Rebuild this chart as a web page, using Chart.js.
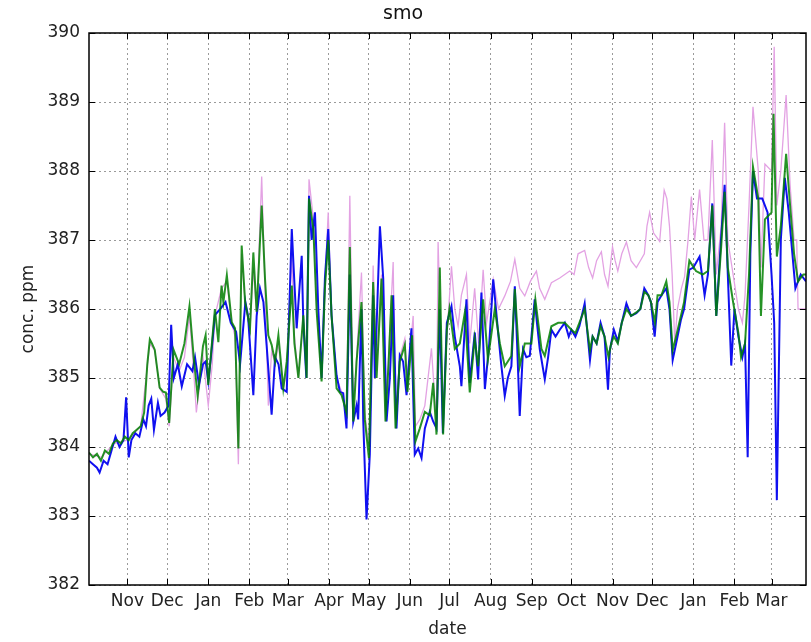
<!DOCTYPE html>
<html>
<head>
<meta charset="utf-8">
<script src="https://cdn.jsdelivr.net/npm/chart.js@4.4.1/dist/chart.umd.min.js"></script>
<style>
  html, body { margin: 0; padding: 0; background: #fff; }
  canvas { display: block; }
</style>
</head>
<body>
<canvas id="chart" width="811" height="642"></canvas>
<script>
// x values are days counted from 1 Nov 2007
const monthDays = [0, 30, 61, 92, 121, 152, 182, 213, 243, 274, 305, 335, 366, 396, 427, 458, 486];
const monthLabels = ['Nov', 'Dec', 'Jan', 'Feb', 'Mar', 'Apr', 'May', 'Jun', 'Jul', 'Aug', 'Sep', 'Oct', 'Nov', 'Dec', 'Jan', 'Feb', 'Mar'];
const yTicks = [382, 383, 384, 385, 386, 387, 388, 389, 390];

// [day, ppm]
const blueSeries = [
  [-29,383.8],[-26,383.75],[-23,383.7],[-21,383.63],[-18,383.8],[-15,383.75],[-12,383.95],[-9,384.15],[-6,384.0],[-3,384.1],
  [-1,384.72],[1,383.85],[3,384.1],[6,384.2],[9,384.15],[12,384.4],[14,384.3],[16,384.6],[18,384.7],[20,384.25],
  [23,384.64],[25,384.45],[28,384.5],[31,384.6],[33,385.77],[35,385.0],[38,385.2],[41,384.88],[45,385.2],[49,385.1],
  [51,385.3],[54,384.9],[57,385.2],[59,385.24],[61,384.95],[63,385.3],[66,385.91],[70,386.0],[74,386.1],[78,385.8],
  [82,385.67],[85,385.2],[89,386.1],[91,385.9],[95,384.75],[97.5,385.9],[100,386.3],[102.6,386.1],[105,385.48],[108.8,384.47],
  [111.4,385.3],[114,385.2],[116.4,384.85],[120.2,384.8],[124,387.16],[125.2,386.68],[127.7,385.72],[131.5,386.77],[132.7,385.81],[135,385.0],
  [137,387.64],[139,387.0],[141.5,387.4],[144,386.0],[146.5,385.0],[149,386.44],[151.5,387.16],[154,385.91],[157.8,385.04],[160.3,384.8],
  [162.8,384.78],[165.3,384.27],[167.8,386.5],[170.4,384.37],[172.9,384.6],[174.1,384.4],[176.6,386.0],[177.9,384.4],[180.4,382.95],[182.9,383.9],
  [185.4,386.2],[186.7,385.0],[190.5,387.2],[193,386.44],[195.5,384.37],[198,385.0],[200.5,386.2],[203,384.27],[205.5,385.33],[208,385.24],
  [210.6,384.75],[214.3,385.72],[216.8,383.89],[219.4,383.98],[221.9,383.84],[224.4,384.27],[228.1,384.51],[230.7,384.37],[233.2,384.27],[235.7,386.0],
  [238,384.2],[241,385.8],[244.5,386.04],[247,385.6],[250.8,385.17],[252,384.88],[255.8,386.14],[258.3,384.93],[262.1,385.66],[264.6,384.98],
  [267.1,386.24],[269.7,384.84],[273,385.5],[276,386.43],[279.7,385.66],[282,385.2],[284.7,384.74],[287,385.0],[289.7,385.17],[292.3,386.33],
  [294,385.5],[296,384.45],[298.5,385.42],[301,385.3],[303.6,385.32],[307.3,386.14],[309,385.8],[311.1,385.42],[314.9,384.98],[317.4,385.3],
  [319.9,385.7],[323,385.6],[326.2,385.7],[330,385.8],[333,385.6],[335,385.7],[338,385.6],[341,385.75],[345,386.08],[349,385.26],
  [351,385.6],[354,385.5],[357,385.8],[360,385.6],[362.6,384.83],[364,385.4],[367,385.7],[370,385.53],[373,385.8],[376.5,386.08],
  [380,385.9],[384,385.94],[387,386.0],[390,386.3],[393,386.2],[395,386.1],[397.8,385.6],[400,386.1],[403,386.2],[406.6,386.3],
  [409,386.0],[411.4,385.26],[414,385.5],[417.6,385.84],[420,386.0],[424,386.57],[427,386.6],[431.7,386.76],[435.5,386.2],[438,386.5],
  [441.3,387.53],[444.3,385.9],[448,387.05],[450.6,387.8],[453,386.5],[455.6,385.18],[458,386.0],[461,385.6],[464,385.3],[466,385.5],
  [468,383.85],[470,386.8],[472,388.0],[475,387.6],[479,387.6],[483,387.4],[486,386.5],[488,385.8],[490,383.23],[493,387.0],
  [496,387.9],[499,387.4],[504,386.3],[508,386.5],[512,386.4]
];

const greenSeries = [
  [-29,383.92],[-26,383.85],[-23,383.9],[-20,383.8],[-17,383.95],[-14,383.9],[-11,384.05],[-8,384.1],[-5,384.05],[-2,384.15],
  [1,384.1],[4,384.2],[7,384.25],[10,384.3],[12.6,384.5],[15,385.2],[16.9,385.56],[18.5,385.5],[20.6,385.41],[22,385.2],
  [24.3,384.86],[27,384.8],[29,384.79],[31.5,384.35],[34.8,385.41],[37,385.3],[39,385.2],[43,385.5],[46.8,386.04],[50,385.3],
  [53,384.74],[57,385.46],[59,385.62],[61,384.9],[66,386.0],[68.6,385.52],[71,386.34],[72.4,386.1],[75,386.49],[78.7,385.81],
  [81.2,385.72],[83.7,383.98],[86.2,386.92],[88.8,386.1],[92.5,385.72],[95,386.82],[97.5,385.96],[101.3,387.5],[103.8,386.44],[106.3,385.62],
  [108.8,385.48],[111.4,385.24],[113.9,385.62],[117.6,384.85],[120.2,385.24],[124,386.34],[126,385.5],[129,385.0],[132.7,385.91],[135.2,385.0],
  [137,387.6],[140.3,387.16],[142.8,385.96],[146.5,384.95],[149,386.3],[151.5,387.0],[154,385.91],[157.8,384.85],[161.6,384.75],[165.3,384.5],
  [167.8,386.9],[170.4,384.37],[172.9,385.24],[176.6,386.1],[179.1,384.4],[182.2,383.84],[185.4,386.39],[188,385.0],[191.7,386.44],[194.7,384.37],
  [197,385.2],[199.3,386.2],[202.3,384.27],[205.5,385.24],[209.3,385.48],[211.3,384.8],[214.8,385.62],[217.3,384.08],[220.6,384.27],[224.4,384.51],
  [228.1,384.46],[230.7,384.93],[233.2,384.18],[235.7,386.6],[238.2,384.18],[241,385.7],[243,386.0],[247,385.42],[250.8,385.5],[254.6,385.95],
  [258.3,384.79],[262,385.57],[264.6,385.17],[268.4,386.14],[272,385.27],[277.2,386.0],[281,385.5],[284.7,385.17],[289.7,385.32],[292.3,386.29],
  [296,385.17],[299.8,385.5],[304.8,385.5],[307.8,386.14],[312.4,385.42],[314.9,385.32],[319.9,385.75],[325,385.8],[330,385.8],[335,385.7],
  [338,385.65],[341,385.8],[345,386.0],[349,385.4],[351,385.6],[354,385.5],[357,385.75],[360,385.6],[363,385.3],[365,385.5],
  [367,385.6],[370,385.5],[373,385.8],[376.5,386.0],[380,385.9],[384,385.95],[387,386.0],[390,386.25],[393,386.2],[395,386.1],
  [398,385.8],[400,386.2],[403,386.2],[406.6,386.4],[409,386.1],[411.4,385.4],[414,385.6],[417.6,385.9],[420,386.1],[424,386.7],
  [429,386.55],[434,386.5],[438,386.55],[441.3,387.5],[444.3,385.9],[448,386.9],[450.6,387.7],[453,386.6],[457,386.1],[461,385.65],
  [463,385.3],[466,385.5],[469,386.5],[472,388.06],[476,387.6],[478,385.9],[481,387.3],[486,387.4],[487.5,388.83],[490,386.76],
  [493,387.2],[497,388.25],[500,387.5],[503,386.8],[506,386.4],[510,386.5],[512,386.5]
];

const pinkSeries = [
  [-29,383.9],[-20,383.85],[-10,384.05],[0,384.1],[10,384.3],[16.9,385.5],[20.6,385.4],[24.3,384.85],[29,384.7],[31.5,384.3],
  [34.8,385.3],[39,385.1],[43,385.3],[46.8,385.9],[50,385.1],[52,384.5],[57,385.3],[61,384.6],[64,385.2],[66,385.9],
  [71,386.3],[75,386.4],[78.7,385.8],[81.2,385.6],[83.7,383.75],[86.2,386.8],[88.8,386.1],[92.5,385.7],[95,386.6],[97.5,385.9],
  [101.3,387.92],[103.8,386.3],[106.3,384.6],[108.8,385.4],[111.4,385.2],[113.9,385.5],[117.6,384.85],[120.2,385.1],[124,386.8],[126,385.6],
  [129,385.0],[132.7,385.9],[135.2,385.0],[137,387.88],[140.3,387.3],[142.8,386.0],[146.5,385.0],[149,386.4],[151.5,387.4],[154,385.9],
  [157.8,385.0],[161.6,384.8],[165.3,384.5],[167.8,387.64],[170.4,384.5],[172.9,385.3],[176.6,386.53],[179.1,384.5],[182.2,384.0],[185.4,386.63],
  [188,385.1],[191.7,386.5],[194.7,384.5],[197,385.3],[200.5,386.68],[202.3,384.4],[205.5,385.3],[209.3,385.57],[211.3,385.0],[215.6,385.9],
  [217.3,384.3],[220.6,384.4],[224.4,384.6],[229.4,385.43],[233.2,384.3],[234.4,386.97],[238.2,384.4],[241,385.6],[244.5,386.62],[247,386.0],
  [249.5,385.75],[252,386.2],[255.8,386.5],[258.3,385.5],[262,386.3],[265,385.5],[268.4,386.57],[271,385.8],[276,386.43],[280,386.0],
  [284.7,386.19],[289,386.4],[292.3,386.72],[296,386.3],[299.8,386.19],[304,386.4],[308.6,386.55],[311,386.3],[314.9,386.14],[319.9,386.38],
  [326.2,386.45],[333.7,386.55],[337,386.5],[340,386.8],[345,386.85],[348,386.6],[351,386.45],[354,386.7],[357.6,386.83],[360,386.5],
  [362.6,386.33],[366,386.9],[368,386.7],[370,386.55],[373,386.8],[376.5,386.97],[380,386.7],[384,386.6],[387,386.7],[390,386.8],
  [392,387.2],[394,387.4],[397,387.1],[401.6,386.98],[403,387.3],[405,387.72],[407,387.6],[409,387.2],[411,386.5],[413,385.5],
  [415,386.0],[418,386.3],[420.4,386.47],[423,387.0],[425.5,387.63],[428,387.0],[431.7,387.73],[435,387.0],[438,387.0],[441.3,388.45],
  [444.3,386.5],[448,387.2],[450.6,388.7],[453,387.0],[457,386.5],[461,386.0],[464,385.8],[466,386.2],[469,387.5],[472,388.93],
  [476,388.0],[478,386.6],[481,388.1],[486,388.0],[488,389.8],[490,387.5],[493,388.0],[497,389.1],[500,387.8],[503,387.0],
  [505,387.0],[506,386.0],[512,386.0]
];

const toPoints = (series) => series.map(([d, v]) => ({ x: d, y: v }));

// matplotlib-like frame with inward ticks on all four sides
const framePlugin = {
  id: 'frame',
  afterDatasetsDraw(chart) {
    const { ctx, chartArea: a, scales: { x, y } } = chart;
    ctx.save();
    ctx.strokeStyle = '#000';
    ctx.lineWidth = 1;
    ctx.beginPath();
    x.ticks.forEach((t) => {
      const px = Math.round(x.getPixelForValue(t.value)) + 0.5;
      ctx.moveTo(px, a.bottom); ctx.lineTo(px, a.bottom - 6);
      ctx.moveTo(px, a.top); ctx.lineTo(px, a.top + 6);
    });
    y.ticks.forEach((t) => {
      const py = Math.round(y.getPixelForValue(t.value)) + 0.5;
      ctx.moveTo(a.left, py); ctx.lineTo(a.left + 6, py);
      ctx.moveTo(a.right, py); ctx.lineTo(a.right - 6, py);
    });
    ctx.stroke();
    ctx.lineWidth = 1.5;
    ctx.strokeRect(a.left, a.top, a.right - a.left, a.bottom - a.top);
    ctx.restore();
  }
};

Chart.defaults.font.family = "'DejaVu Sans', sans-serif";
Chart.defaults.font.size = 17;
Chart.defaults.color = '#222';

new Chart(document.getElementById('chart'), {
  type: 'line',
  data: {
    datasets: [
      {
        label: 'pink',
        data: toPoints(pinkSeries),
        borderColor: '#e3a2e3',
        borderWidth: 1.3,
        pointRadius: 0,
        tension: 0,
        order: 3,
      },
      {
        label: 'blue',
        data: toPoints(blueSeries),
        borderColor: '#1010f0',
        borderWidth: 2,
        pointRadius: 0,
        tension: 0,
        order: 2,
      },
      {
        label: 'green',
        data: toPoints(greenSeries),
        borderColor: 'rgba(0,128,0,0.85)',
        borderWidth: 2,
        pointRadius: 0,
        tension: 0,
        order: 1,
      },
    ],
  },
  options: {
    responsive: false,
    animation: false,
    events: [],
    layout: { padding: { left: 0, right: 5, top: 0, bottom: 0 } },
    plugins: {
      legend: { display: false },
      tooltip: { enabled: false },
      title: {
        display: true,
        text: 'smo',
        font: { size: 19, weight: 'normal' },
        color: '#111',
        padding: { top: 3, bottom: 7.2 },
      },
    },
    scales: {
      x: {
        type: 'linear',
        min: -29,
        max: 512,
        afterBuildTicks: (scale) => {
          scale.ticks = monthDays.map((d) => ({ value: d }));
        },
        afterFit: (scale) => { scale.height = 57; },
        ticks: {
          autoSkip: false,
          maxRotation: 0,
          minRotation: 0,
          padding: 6,
          callback: (value, index) => monthLabels[index],
        },
        grid: { color: '#9a9a9a', lineWidth: 1, drawTicks: false },
        border: { display: false, dash: [2, 3] },
        title: { display: true, text: 'date', padding: { top: 0, bottom: 2 } },
      },
      y: {
        type: 'linear',
        min: 382,
        max: 390,
        afterBuildTicks: (scale) => {
          scale.ticks = yTicks.map((v) => ({ value: v }));
        },
        afterFit: (scale) => { scale.width = 89; },
        ticks: { padding: 9, callback: (value) => String(value) },
        grid: { color: '#9a9a9a', lineWidth: 1, drawTicks: false },
        border: { display: false, dash: [2, 3] },
        title: { display: true, text: 'conc. ppm', padding: { top: 18, bottom: 0 } },
      },
    },
  },
  plugins: [framePlugin],
});
</script>
</body>
</html>
